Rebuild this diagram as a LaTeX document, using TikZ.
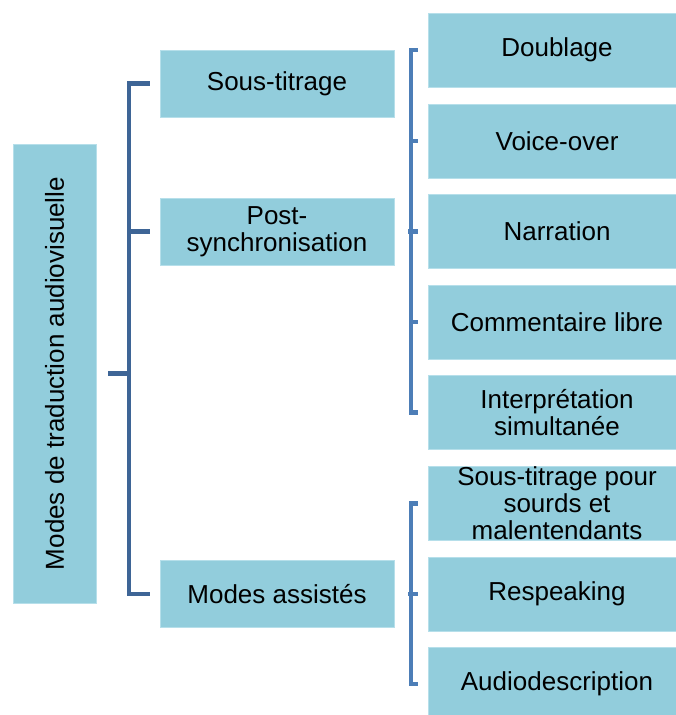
\documentclass[tikz,border=0pt]{standalone}
\usepackage{fontspec}
\setmainfont{Liberation Sans}
\usetikzlibrary{positioning}
\definecolor{boxblue}{RGB}{146,205,220}
\definecolor{boxedge}{RGB}{182,223,234}
\definecolor{darkline}{RGB}{62,101,150}
\definecolor{lightline}{RGB}{77,126,183}
\tikzset{
  modebox/.style={fill=boxblue, draw=boxedge, line width=0.4pt, inner sep=0pt,
    align=center, font=\fontsize{13}{13.5}\selectfont},
  mainbox/.style={modebox, minimum width=117pt, minimum height=33.5pt},
  subbox/.style={modebox, minimum width=129pt, minimum height=37pt},
  darkbracket/.style={draw=darkline, line width=2.4pt},
  lightbracket/.style={draw=lightline, line width=2.4pt},
}

\begin{document}
\begin{tikzpicture}[x=0.5pt,y=-0.5pt]
  \useasboundingbox (0,0) rectangle (675,715);
  % rotated box, so its right side is .south
  \node[modebox, rotate=90, minimum width=229.5pt, minimum height=41.5pt] (root) at (54.5,373.5) {Modes de traduction audiovisuelle};

  \node[mainbox] (soustitrage) at (277,83.5) {Sous-titrage};
  \node[mainbox] (postsynchro) at (277,231.5) {Post-\\synchronisation};
  \node[mainbox] (assistes) at (277,594) {Modes assistés};

  \node[subbox] (doublage) at (557,50) {Doublage};
  \node[subbox] (voiceover) at (557,141) {Voice-over};
  \node[subbox] (narration) at (557,231.5) {Narration};
  \node[subbox] (commentaire) at (557,322) {Commentaire libre};
  \node[subbox] (interpretation) at (557,412.5) {Interprétation\\simultanée};
  \node[subbox] (sst) at (557,503.5) {Sous-titrage pour\\sourds et\\malentendants};
  \node[subbox] (respeaking) at (557,594) {Respeaking};
  \node[subbox] (audiodesc) at (557,684) {Audiodescription};

  \coordinate (spine) at (129,0);
  \coordinate (subspine) at (411,0);

  % first level
  \draw[darkbracket] ([xshift=-5]soustitrage.west) -| (spine |- assistes.west) -- ([xshift=-5]assistes.west);
  \draw[darkbracket] ([xshift=-5]postsynchro.west) -- (spine |- postsynchro.west);
  \draw[darkbracket] ([xshift=6]root.south) -- (spine |- root.south);

  % post-synchronisation
  \draw[lightbracket] ([xshift=-5]doublage.west) -| (subspine |- interpretation.west) -- ([xshift=-5]interpretation.west);
  \foreach \n in {voiceover,narration,commentaire}
    \draw[lightbracket] ([xshift=-5]\n.west) -- (subspine |- \n.west);
  \draw[lightbracket] ([xshift=7]postsynchro.east) -- (subspine |- postsynchro.east);

  % modes assistes
  \draw[lightbracket] ([xshift=-5]sst.west) -| (subspine |- audiodesc.west) -- ([xshift=-5]audiodesc.west);
  \draw[lightbracket] ([xshift=-5]respeaking.west) -- (subspine |- respeaking.west);
  \draw[lightbracket] ([xshift=7]assistes.east) -- (subspine |- assistes.east);
\end{tikzpicture}
\end{document}
